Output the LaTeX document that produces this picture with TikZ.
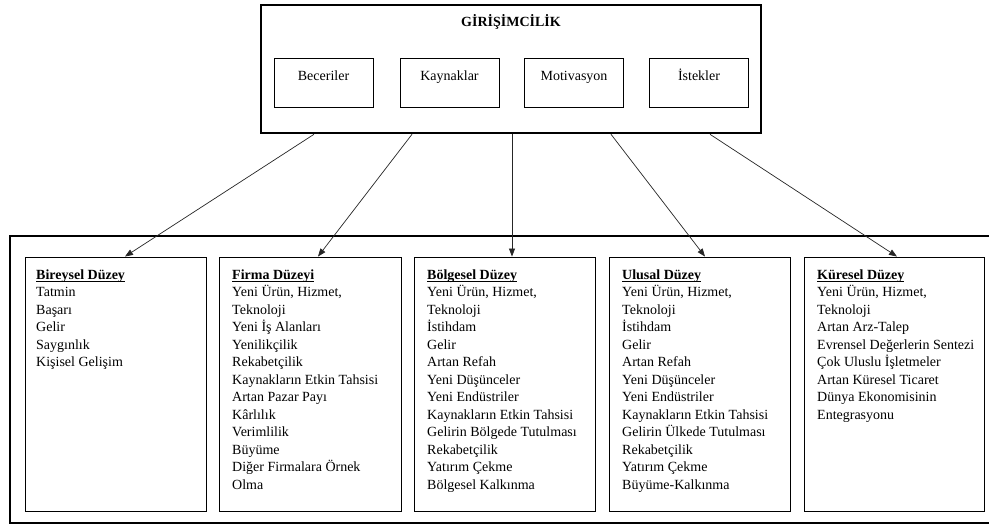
\documentclass[tikz,border=0pt]{standalone}
\usepackage{fontspec}
\setmainfont{Liberation Serif}
\usetikzlibrary{arrows.meta}
\newcommand\hul[1]{\setbox0\hbox{#1}\rlap{\vrule height -1.6pt depth 2.5pt width \wd0}\box0}
\begin{document}
\begin{tikzpicture}[x=1pt,y=-1pt,
  outer/.style={draw, line width=2.6pt, inner sep=0pt},
  inbox/.style={draw, line width=0.9pt, minimum width=99pt, minimum height=49pt, inner sep=0pt},
  colbox/.style={draw, line width=0.9pt, minimum height=254pt, inner sep=0pt},
  coltext/.style={anchor=north west, inner sep=0pt, align=left, font=\fontsize{14}{17.5}\selectfont},
  conn/.style={draw=black!85, line width=0.7pt, -{Triangle[length=8pt,width=6pt]}},
  lbl/.style={font=\fontsize{14}{17}\selectfont, anchor=base, inner sep=0pt}
]
\useasboundingbox (0,0) rectangle (989,530);
\fill[white] (0,0) rectangle (989,530);

% top box
\node[outer, minimum width=500pt, minimum height=128pt] (top) at (511,69) {};
\node[lbl, font=\bfseries\fontsize{14}{17}\selectfont] (title) at (511,26) {GİRİŞİMCİLİK};

\node[inbox] (bec) at (323.5,82.5) {};
\node[inbox] (kay) at (449.5,82.5) {};
\node[inbox] (mot) at (574,82.5) {};
\node[inbox] (ist) at (699,82.5) {};
\node[lbl] (becT) at (323.5,80.5) {Beceriler};
\node[lbl] (kayT) at (449.5,80.5) {Kaynaklar};
\node[lbl] (motT) at (574,80.5) {Motivasyon};
\node[lbl] (istT) at (699,80.5) {İstekler};

% bottom outer box (right side beyond page)
\node[outer, minimum width=990pt, minimum height=287pt] (bottom) at (505,379.5) {};

% column boxes
\node[colbox, minimum width=181pt] (b1) at (115.5,384) {};
\node[colbox, minimum width=182pt] (b2) at (310,384) {};
\node[colbox, minimum width=181pt] (b3) at (504.5,384) {};
\node[colbox, minimum width=181pt] (b4) at (699.5,384) {};
\node[colbox, minimum width=180pt] (b5) at (894,384) {};

\node[coltext] (t1) at (36,269.5) {\hul{\textbf{Bireysel Düzey}}\\Tatmin\\Başarı\\Gelir\\Saygınlık\\Kişisel Gelişim};
\node[coltext] (t2) at (232,269.5) {\hul{\textbf{Firma Düzeyi}}\\Yeni Ürün, Hizmet,\\Teknoloji\\Yeni İş Alanları\\Yenilikçilik\\Rekabetçilik\\Kaynakların Etkin Tahsisi\\Artan Pazar Payı\\Kârlılık\\Verimlilik\\Büyüme\\Diğer Firmalara Örnek\\Olma};
\node[coltext] (t3) at (427,269.5) {\hul{\textbf{Bölgesel Düzey}}\\Yeni Ürün, Hizmet,\\Teknoloji\\İstihdam\\Gelir\\Artan Refah\\Yeni Düşünceler\\Yeni Endüstriler\\Kaynakların Etkin Tahsisi\\Gelirin Bölgede Tutulması\\Rekabetçilik\\Yatırım Çekme\\Bölgesel Kalkınma};
\node[coltext] (t4) at (622,269.5) {\hul{\textbf{Ulusal Düzey}}\\Yeni Ürün, Hizmet,\\Teknoloji\\İstihdam\\Gelir\\Artan Refah\\Yeni Düşünceler\\Yeni Endüstriler\\Kaynakların Etkin Tahsisi\\Gelirin Ülkede Tutulması\\Rekabetçilik\\Yatırım Çekme\\Büyüme-Kalkınma};
\node[coltext] (t5) at (817,269.5) {\hul{\textbf{Küresel Düzey}}\\Yeni Ürün, Hizmet,\\Teknoloji\\Artan Arz-Talep\\Evrensel Değerlerin Sentezi\\Çok Uluslu İşletmeler\\Artan Küresel Ticaret\\Dünya Ekonomisinin\\Entegrasyonu};

% connectors
\draw[conn] ([xshift=-197pt]top.south) -- ([xshift=9.5pt]b1.north);
\draw[conn] ([xshift=-99pt]top.south) -- ([xshift=8pt]b2.north);
\draw[conn] ([xshift=1pt]top.south) -- ([xshift=7.5pt]b3.north);
\draw[conn] ([xshift=100pt]top.south) -- ([xshift=5.5pt]b4.north);
\draw[conn] ([xshift=199pt]top.south) -- ([xshift=3pt]b5.north);
\end{tikzpicture}
\end{document}
